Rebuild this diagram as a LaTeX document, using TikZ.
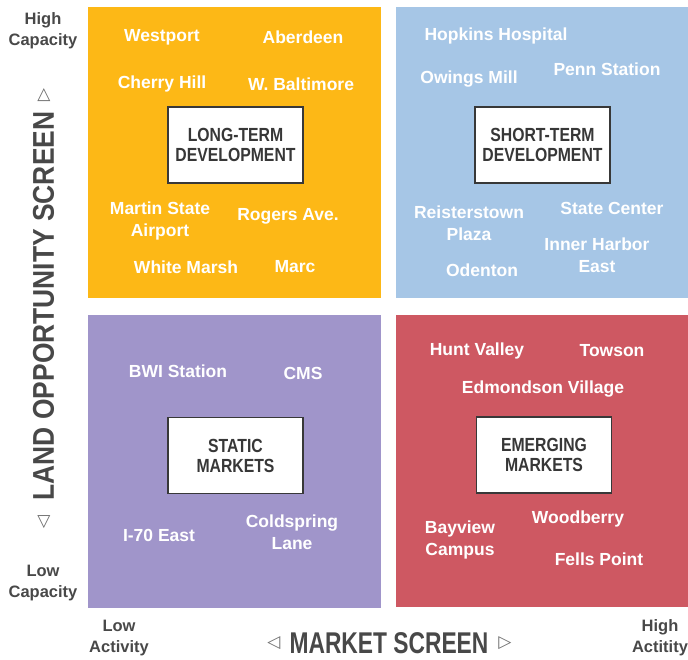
\documentclass[tikz,border=0pt]{standalone}
\usepackage{fontspec}
\setmainfont{Liberation Sans}
\newfontfamily\boxfont[FakeStretch=0.83]{Liberation Sans}
\newfontfamily\hfont[FakeStretch=0.76]{Liberation Sans}
\newfontfamily\vfont[FakeStretch=0.88]{Liberation Sans}
\newfontfamily\symfont{DejaVu Sans}
\definecolor{qorange}{RGB}{253,184,22}
\definecolor{qblue}{RGB}{166,198,230}
\definecolor{qpurple}{RGB}{160,149,202}
\definecolor{qred}{RGB}{206,88,98}
\definecolor{axisgray}{RGB}{72,72,72}
\definecolor{trigray}{RGB}{110,110,110}
\definecolor{boxtext}{RGB}{55,55,55}
\tikzset{
  place/.style={text=white, font=\bfseries\fontsize{17.5}{22}\selectfont, align=center, inner sep=0pt},
  catbox/.style={draw=black!78, line width=1.8pt, fill=white, minimum width=135pt, minimum height=76pt, inner sep=0pt, align=center, text=boxtext, font=\boxfont\bfseries\fontsize{19}{20}\selectfont},
  corner/.style={text=axisgray, font=\bfseries\fontsize{16.5}{21}\selectfont, align=center, inner sep=0pt},
  tri/.style={text=trigray, font=\symfont\fontsize{17}{17}\selectfont, inner sep=0pt},
}
\begin{document}
\begin{tikzpicture}[x=1pt,y=-1pt]
\useasboundingbox (0,0) rectangle (688,660);
% quadrants
\fill[qorange] (88,7) rectangle (381,298);
\fill[qblue] (396,7) rectangle (688,298);
\fill[qpurple] (88,315) rectangle (381,608);
\fill[qred] (396,315) rectangle (688,607);
% category boxes
\node[catbox] (lt) at (235.5,145) {LONG-TERM\\DEVELOPMENT};
\node[catbox] (st) at (542.5,145) {SHORT-TERM\\DEVELOPMENT};
\node[catbox] (sm) at (235.5,455.5) {STATIC\\MARKETS};
\node[catbox] (em) at (544,455) {EMERGING\\MARKETS};
% orange places
\node[place] (westport) at (162,37) {Westport};
\node[place] (aberdeen) at (303,37) {Aberdeen};
\node[place] (cherry) at (162,84) {Cherry Hill};
\node[place] (wbalt) at (301,84) {W. Baltimore};
\node[place] (martin) at (160,221) {Martin State\\Airport};
\node[place] (rogers) at (288,216) {Rogers Ave.};
\node[place] (white) at (186,267) {White Marsh};
\node[place] (marc) at (295,267) {Marc};
% blue places
\node[place] (hopkins) at (496,36) {Hopkins Hospital};
\node[place] (penn) at (607,69) {Penn Station};
\node[place] (owings) at (469,79) {Owings Mill};
\node[place] (reister) at (469,223) {Reisterstown\\Plaza};
\node[place] (state) at (612,208) {State Center};
\node[place] (inner) at (597,255) {Inner Harbor\\East};
\node[place] (odenton) at (482,270) {Odenton};
% purple places
\node[place] (bwi) at (178,371) {BWI Station};
\node[place] (cms) at (303,373) {CMS};
\node[place] (i70) at (159,535) {I-70 East};
\node[place] (cold) at (292,532) {Coldspring\\Lane};
% red places
\node[place] (hunt) at (477,351) {Hunt Valley};
\node[place] (towson) at (612,351) {Towson};
\node[place] (edmond) at (543,389) {Edmondson Village};
\node[place] (wood) at (578,519) {Woodberry};
\node[place] (bay) at (460,540) {Bayview\\Campus};
\node[place] (fells) at (599,559) {Fells Point};
% corner labels
\node[corner] (hc) at (43,31) {High\\Capacity};
\node[corner] (lc) at (43,583) {Low\\Capacity};
\node[corner] (la) at (119,638) {Low\\Activity};
\node[corner] (ha) at (660,638) {High\\Actitity};
% axis titles
\node[text=axisgray, font=\vfont\bfseries\fontsize{30}{30}\selectfont, rotate=90, inner sep=0pt] (vaxis) at (43.5,306) {LAND OPPORTUNITY SCREEN};
\node[tri] (vup) at (44,95) {△};
\node[tri] (vdown) at (44,522) {▽};
\node[text=axisgray, font=\hfont\bfseries\fontsize{30}{30}\selectfont, inner sep=0pt] (haxis) at (389,643.5) {MARKET SCREEN};
\node[tri] (hleft) at (274,643.5) {◁};
\node[tri] (hright) at (505,643.5) {▷};
\end{tikzpicture}
\end{document}
